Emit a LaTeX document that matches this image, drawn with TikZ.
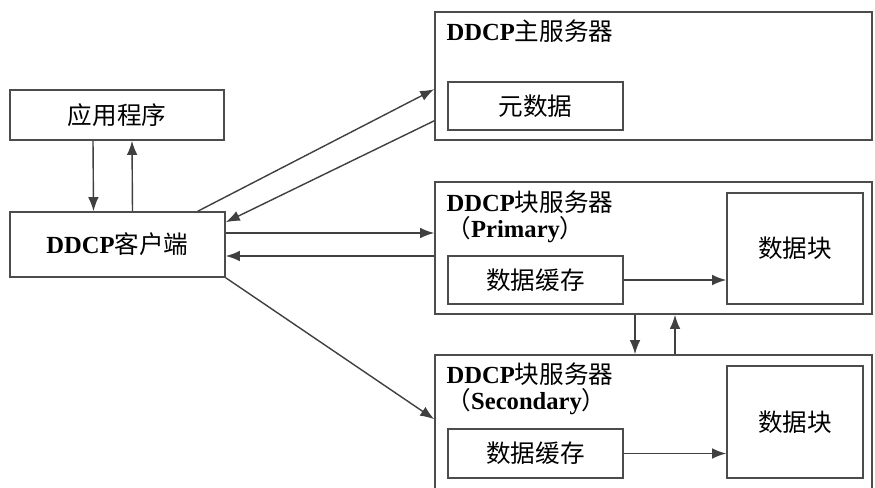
\documentclass[tikz,border=0pt]{standalone}
\usepackage{fontspec}
\setmainfont{Liberation Serif}
\newfontfamily\cjk{Noto Sans CJK SC}
\usetikzlibrary{arrows.meta,positioning,calc}

\begin{document}
\begin{tikzpicture}[x=0.02cm, y=-0.02cm,
    box/.style={draw=black!70, line width=0.9pt, fill=white, inner sep=0pt, font=\fontsize{14}{15}\selectfont\cjk},
    srv/.style={draw=black!70, line width=0.9pt, inner sep=0pt},
    title/.style={inner sep=0pt, align=left, font=\fontsize{14}{15}\selectfont},
    arr/.style={draw=black!75, line width=0.8pt, -{Latex[length=8pt,width=6pt]}}]
        \clip (0,0) rectangle (875,487);
        \fill[white] (0,0) rectangle (875,487);

        % Application and client
        \node[box, minimum width=4.28cm, minimum height=1.0cm] (app) at (117,115) {应用程序};
        \node[box, minimum width=4.3cm, minimum height=1.3cm, font=\fontsize{14}{15}\selectfont] (client) at (117.5,244.5) {\textbf{DDCP}{\cjk 客户端}};

        % Master server
        \node[srv, minimum width=8.74cm, minimum height=2.56cm] (master) at (653.5,76) {};
        \node[title, below right=0.16cm and 0.24cm of master.north west] (mtitle) {\textbf{DDCP}{\cjk 主服务器}};
        \node[box, minimum width=3.5cm, minimum height=0.96cm] (meta) at (535.5,106) {元数据};

        % Block server (Primary)
        \node[srv, minimum width=8.74cm, minimum height=2.64cm] (primary) at (653.5,248) {};
        \node[title, below right=0.18cm and 0.24cm of primary.north west] (ptitle) {\textbf{DDCP}{\cjk 块服务器}\\{\cjk （}\textbf{Primary}{\cjk ）}};
        \node[box, minimum width=3.5cm, minimum height=0.96cm] (pcache) at (535.5,280) {数据缓存};
        \node[box, minimum width=2.72cm, minimum height=2.22cm] (pblock) at (795,248.5) {数据块};

        % Block server (Secondary)
        \node[srv, minimum width=8.74cm, minimum height=2.8cm] (secondary) at (653.5,425) {};
        \node[title, below right=0.16cm and 0.24cm of secondary.north west] (stitle) {\textbf{DDCP}{\cjk 块服务器}\\{\cjk （}\textbf{Secondary}{\cjk ）}};
        \node[box, minimum width=3.5cm, minimum height=0.98cm] (scache) at (535.5,453.5) {数据缓存};
        \node[box, minimum width=2.72cm, minimum height=2.24cm] (sblock) at (795,422) {数据块};

        % App <-> client
        \draw[arr] ([xshift=-0.48cm]app.south) -- ([xshift=-0.48cm]client.north);
        \draw[arr] ([xshift=0.3cm]client.north) -- ([xshift=0.3cm]app.south);

        % Client <-> master
        \draw[arr] ([xshift=-0.56cm]client.north east) -- ([yshift=-1.56cm]master.north west);
        \draw[arr] ([yshift=0.4cm]master.south west) -- ([yshift=-0.22cm]client.north east);

        % Client <-> primary
        \draw[arr] ([yshift=0.23cm]client.east) -- ([yshift=0.23cm]client.east -| primary.west);
        \draw[arr] ([yshift=-0.23cm]client.east -| primary.west) -- ([yshift=-0.23cm]client.east);

        % Client -> secondary
        \draw[arr] (client.south east) -- ([yshift=-1.3cm]secondary.north west);

        % Cache -> block
        \draw[arr] (pcache.east) -- (pcache.east -| pblock.west);
        \draw[arr] (scache.east) -- (scache.east -| sblock.west);

        % Primary <-> secondary
        \draw[arr] ([xshift=-0.37cm]primary.south) -- ([xshift=-0.37cm]primary.south |- secondary.north);
        \draw[arr] ([xshift=0.43cm]primary.south |- secondary.north) -- ([xshift=0.43cm]primary.south);
    \end{tikzpicture}
\end{document}
